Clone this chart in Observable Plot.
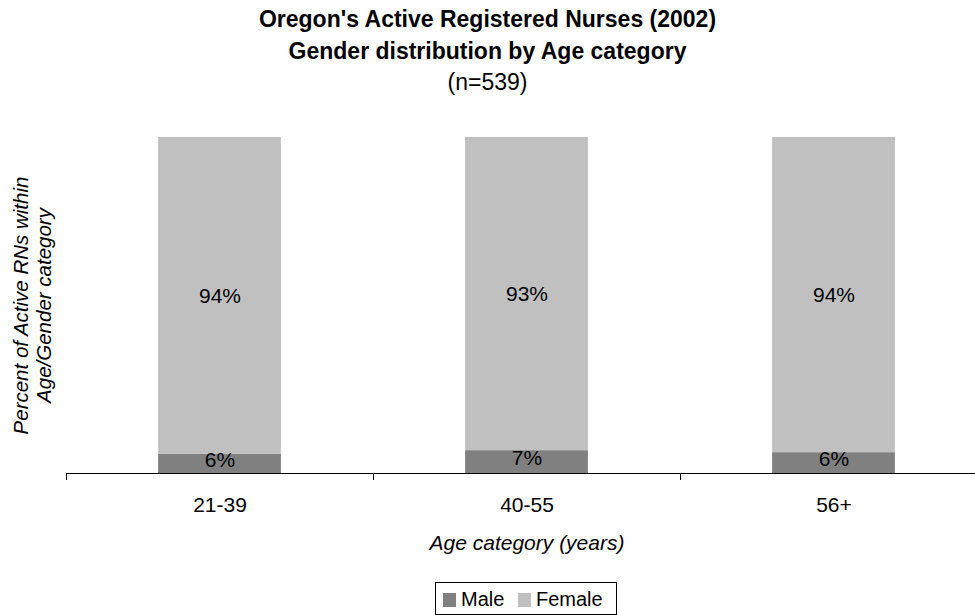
<!DOCTYPE html>
<html>
<head>
<meta charset="utf-8">
<script src="https://cdn.jsdelivr.net/npm/d3@7"></script>
<script src="https://cdn.jsdelivr.net/npm/@observablehq/plot@0.6"></script>
<style>
html, body { margin: 0; padding: 0; background: #fff; overflow: hidden; }
body { width: 975px; height: 615px; position: relative; font-family: "Liberation Sans", Arial, sans-serif; color: #000; }
#title { position: absolute; left: 0; top: 4px; width: 975px; text-align: center; font-size: 23px; line-height: 31.5px; }
#title .b { font-weight: bold; }
#chart { position: absolute; left: 0; top: 100px; }
#legend { position: absolute; left: 435px; top: 582px; width: 180px; height: 31px; border: 1px solid #000; background: #fff; }
#legend .sw { position: absolute; top: 10px; width: 13px; height: 14px; }
#legend .lb { position: absolute; top: 6px; font-size: 20px; line-height: 20px; white-space: nowrap; }
</style>
</head>
<body>
<div id="title"></div>
<div id="chart"></div>
<div id="legend"></div>
<script>
// ---- data ----
const titleLines = ["Oregon's Active Registered Nurses (2002)", "Gender distribution by Age category", "(n=539)"];
const categories = ["21-39", "40-55", "56+"];
const series = ["Male", "Female"];
const maleValues = [5.7, 6.8, 6.2];
const femaleValues = [94.3, 93.2, 93.8];
const seriesColors = ["#808080", "#C0C0C0"];
const xTitle = "Age category (years)";
const yTitle = "Percent of Active RNs within\nAge/Gender category";

// ---- title ----
const t = document.getElementById("title");
titleLines.forEach((s, k) => {
  const d = document.createElement("div");
  d.textContent = s;
  if (k < 2) d.className = "b";
  t.appendChild(d);
});

// ---- rows (stacked) ----
const rows = [];
categories.forEach((c, i) => {
  const m = maleValues[i], f = femaleValues[i];
  rows.push({i, age: c, gender: series[0], value: m, y1: 0, y2: m});
  rows.push({i, age: c, gender: series[1], value: f, y1: m, y2: m + f});
});
const half = 0.2; // half bar width in category units

const chart = Plot.plot({
  width: 975,
  height: 458,
  marginLeft: 66,
  marginRight: -12,
  marginTop: 37,
  marginBottom: 85,
  style: { fontFamily: '"Liberation Sans", Arial, sans-serif', fontSize: "21px", color: "#000", background: "transparent", overflow: "visible" },
  x: { domain: [-0.5, categories.length - 0.5], axis: null },
  y: { domain: [0, 100], axis: null },
  color: { domain: series, range: seriesColors },
  marks: [
    Plot.rect(rows, { x1: d => d.i - half, x2: d => d.i + half, y1: "y1", y2: "y2", fill: "gender" }),
    Plot.ruleY([0], { stroke: "#000", strokeWidth: 1 }),
    Plot.axisX({ ticks: d3.range(categories.length + 1).map(k => k - 0.5), tickSize: 7, tickFormat: () => "", label: null, stroke: "#000" }),
    Plot.axisX({ ticks: d3.range(categories.length), tickSize: 0, tickPadding: 24, tickFormat: k => categories[k], label: null, fontSize: 21, fill: "#000" }),
    Plot.text(rows.filter(d => d.gender === "Male"), { x: "i", y: d => (d.y1 + d.y2) / 2, text: d => Math.round(d.value) + "%", dy: -4, fontSize: 21, fill: "#000" }),
    Plot.text(rows.filter(d => d.gender === "Female"), { x: "i", y: d => (d.y1 + d.y2) / 2, text: d => Math.round(d.value) + "%", fontSize: 21, fill: "#000" }),
    Plot.text([xTitle], { text: d => d, frameAnchor: "bottom", dy: 70, lineAnchor: "middle", fontStyle: "italic", fontSize: 21, fill: "#000" }),
    Plot.text([yTitle], { text: d => d, frameAnchor: "left", dx: -34, rotate: -90, textAnchor: "middle", lineAnchor: "middle", lineHeight: 1.1, fontStyle: "italic", fontSize: 20.5, fill: "#000" })
  ]
});
document.getElementById("chart").appendChild(chart);

// ---- legend ----
const lg = document.getElementById("legend");
const swLeft = [7, 82], lbLeft = [25, 100];
series.forEach((s, k) => {
  const sw = document.createElement("div");
  sw.className = "sw";
  sw.style.left = swLeft[k] + "px";
  sw.style.background = seriesColors[k];
  lg.appendChild(sw);
  const lb = document.createElement("div");
  lb.className = "lb";
  lb.style.left = lbLeft[k] + "px";
  lb.textContent = s;
  lg.appendChild(lb);
});
</script>
</body>
</html>
